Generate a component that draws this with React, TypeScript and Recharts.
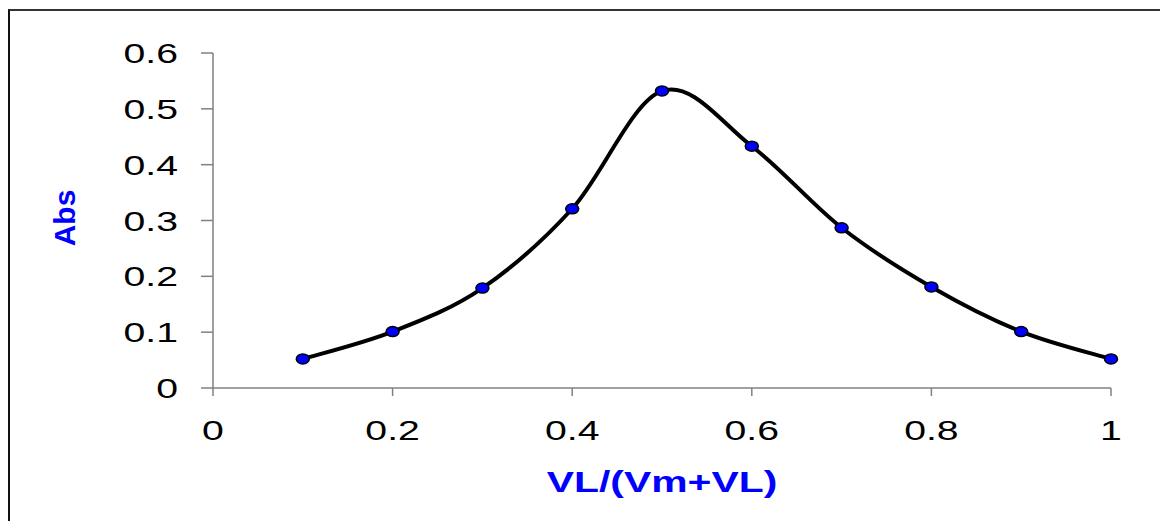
import { LineChart, Line, XAxis, YAxis, Label } from "recharts";

const ratio = [0.1, 0.2, 0.3, 0.4, 0.5, 0.6, 0.7, 0.8, 0.9, 1.0];
const absorbance = [0.052, 0.101, 0.179, 0.321, 0.532, 0.433, 0.287, 0.181, 0.101, 0.052];
const xTicks = [0, 0.2, 0.4, 0.6, 0.8, 1];
const yTicks = [0, 0.1, 0.2, 0.3, 0.4, 0.5, 0.6];

const data = ratio.map((r, i) => ({ ratio: r, abs: absorbance[i] }));

const FONT = "'Liberation Sans', Arial, sans-serif";
const STRETCH = 1.4;
const AXIS_GREY = "#808080";

// Excel-like smoothed line: Catmull-Rom style bezier through the points
const smoothCurve = (context: any) => {
  let pts: number[][] = [];
  return {
    areaStart() {},
    areaEnd() {},
    lineStart() {
      pts = [];
    },
    point(x: number, y: number) {
      pts.push([+x, +y]);
    },
    lineEnd() {
      const n = pts.length;
      if (!n) return;
      context.moveTo(pts[0][0], pts[0][1]);
      for (let i = 0; i < n - 1; i++) {
        const p0 = pts[Math.max(i - 1, 0)];
        const p1 = pts[i];
        const p2 = pts[i + 1];
        const p3 = pts[Math.min(i + 2, n - 1)];
        context.bezierCurveTo(
          p1[0] + (p2[0] - p0[0]) / 6,
          p1[1] + (p2[1] - p0[1]) / 6,
          p2[0] - (p3[0] - p1[0]) / 6,
          p2[1] - (p3[1] - p1[1]) / 6,
          p2[0],
          p2[1]
        );
      }
    },
  };
};

const XTick = (props: any) => {
  const { x, y, payload } = props;
  return (
    <text
      x={0}
      y={0}
      dy={44}
      transform={`translate(${x},${y}) scale(${STRETCH},1)`}
      textAnchor="middle"
      fontFamily={FONT}
      fontSize={28}
      fill="#000"
    >
      {String(payload.value)}
    </text>
  );
};

const YTick = (props: any) => {
  const { x, y, payload } = props;
  return (
    <text
      x={-23 / STRETCH}
      y={0}
      dy={10}
      transform={`translate(${x},${y}) scale(${STRETCH},1)`}
      textAnchor="end"
      fontFamily={FONT}
      fontSize={28}
      fill="#000"
    >
      {String(payload.value)}
    </text>
  );
};

const Dot = (props: any) => {
  const { cx, cy, index } = props;
  return (
    <ellipse
      key={`dot-${index}`}
      cx={cx}
      cy={cy}
      rx={6.5}
      ry={5}
      fill="#0000FF"
      stroke="#000"
      strokeWidth={1.5}
    />
  );
};

export default function App() {
  return (
    <div
      style={{
        position: "absolute",
        left: 0,
        top: 0,
        width: 1160,
        height: 521,
        background: "#fff",
        overflow: "hidden",
      }}
    >
      {/* frame of the chart area, cut off on the right and bottom */}
      <div
        style={{
          position: "absolute",
          left: 8,
          top: 9,
          width: 1200,
          height: 600,
          borderTop: "2px solid #333",
          borderLeft: "2px solid #111",
        }}
      />
      <div style={{ position: "absolute", left: 0, top: 0 }}>
        <LineChart
          width={1160}
          height={521}
          data={data}
          margin={{ top: 53, right: 49, bottom: 53, left: 0 }}
        >
          <XAxis
            dataKey="ratio"
            type="number"
            domain={[0, 1]}
            ticks={xTicks}
            height={80}
            stroke={AXIS_GREY}
            strokeWidth={1.5}
            tickSize={8}
            tickMargin={0}
            tick={<XTick />}
            tickLine={{ stroke: AXIS_GREY, strokeWidth: 1.5 }}
          >
            <Label
              content={(p: any) => {
                const vb = p.viewBox;
                return (
                  <text
                    x={0}
                    y={0}
                    transform={`translate(${vb.x + vb.width / 2},${vb.y + 104}) scale(1.41,1)`}
                    textAnchor="middle"
                    fontFamily={FONT}
                    fontWeight="bold"
                    fontSize={29}
                    fill="#0000FF"
                  >
                    VL/(Vm+VL)
                  </text>
                );
              }}
            />
          </XAxis>
          <YAxis
            type="number"
            domain={[0, 0.6]}
            ticks={yTicks}
            width={213}
            stroke={AXIS_GREY}
            strokeWidth={1.5}
            tickSize={12}
            tickMargin={0}
            tick={<YTick />}
            tickLine={{ stroke: AXIS_GREY, strokeWidth: 1.5 }}
          >
            <Label
              content={() => (
                <text
                  x={0}
                  y={0}
                  transform="translate(75,218) rotate(-90)"
                  textAnchor="middle"
                  fontFamily={FONT}
                  fontWeight="bold"
                  fontSize={30}
                  fill="#0000FF"
                >
                  Abs
                </text>
              )}
            />
          </YAxis>
          <Line
            dataKey="abs"
            type={smoothCurve as any}
            stroke="#000"
            strokeWidth={4}
            dot={<Dot />}
            activeDot={false}
            isAnimationActive={false}
          />
        </LineChart>
      </div>
    </div>
  );
}
